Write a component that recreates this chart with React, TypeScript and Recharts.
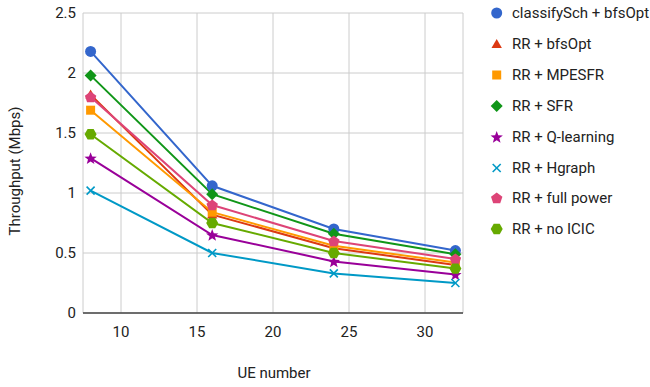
import React from "react";
import { LineChart, Line, XAxis, YAxis, CartesianGrid } from "recharts";

const ueNumbers = [8, 16, 24, 32];
const xTicks = [10, 15, 20, 25, 30];
const yTicks = [0, 0.5, 1, 1.5, 2, 2.5];

const seriesNames = [
  "classifySch + bfsOpt",
  "RR + bfsOpt",
  "RR + MPESFR",
  "RR + SFR",
  "RR + Q-learning",
  "RR + Hgraph",
  "RR + full power",
  "RR + no ICIC",
];
const classifySchBfsOpt = [2.18, 1.06, 0.7, 0.52];
const rrBfsOpt = [1.82, 0.82, 0.54, 0.4];
const rrMpesfr = [1.69, 0.84, 0.56, 0.42];
const rrSfr = [1.98, 0.99, 0.66, 0.49];
const rrQLearning = [1.29, 0.65, 0.43, 0.32];
const rrHgraph = [1.02, 0.5, 0.33, 0.25];
const rrFullPower = [1.8, 0.9, 0.6, 0.45];
const rrNoIcic = [1.49, 0.75, 0.5, 0.37];

const seriesValues = [
  classifySchBfsOpt,
  rrBfsOpt,
  rrMpesfr,
  rrSfr,
  rrQLearning,
  rrHgraph,
  rrFullPower,
  rrNoIcic,
];
const colors = ["#3366cc", "#dc3912", "#ff9900", "#109618", "#990099", "#0099c6", "#dd4477", "#66aa00"];
const shapes = ["circle", "triangle", "square", "diamond", "star", "cross", "pentagon", "hexagon"];

const keys = seriesNames.map((_, i) => `s${i}`);
const data = ueNumbers.map((x, j) => {
  const row: any = { x };
  seriesValues.forEach((vals, i) => {
    row[keys[i]] = vals[j];
  });
  return row;
});

function polygon(cx: number, cy: number, r: number, n: number, rot: number) {
  const pts: string[] = [];
  for (let k = 0; k < n; k++) {
    const a = rot + (k * 2 * Math.PI) / n;
    pts.push(`${cx + r * Math.cos(a)},${cy + r * Math.sin(a)}`);
  }
  return pts.join(" ");
}

function star(cx: number, cy: number, r: number) {
  const pts: string[] = [];
  for (let k = 0; k < 10; k++) {
    const a = -Math.PI / 2 + (k * Math.PI) / 5;
    const rr = k % 2 === 0 ? r : r * 0.42;
    pts.push(`${cx + rr * Math.cos(a)},${cy + rr * Math.sin(a)}`);
  }
  return pts.join(" ");
}

function Marker({ shape, cx, cy, color }: { shape: string; cx: number; cy: number; color: string }) {
  switch (shape) {
    case "circle":
      return <circle cx={cx} cy={cy} r={5.5} fill={color} />;
    case "triangle":
      return <polygon points={polygon(cx, cy + 1, 6, 3, -Math.PI / 2)} fill={color} />;
    case "square":
      return <rect x={cx - 4.5} y={cy - 4.5} width={9} height={9} fill={color} />;
    case "diamond":
      return <polygon points={polygon(cx, cy, 6, 4, 0)} fill={color} />;
    case "star":
      return <polygon points={star(cx, cy + 0.5, 6.5)} fill={color} />;
    case "cross":
      return (
        <g stroke={color} strokeWidth={1.6}>
          <line x1={cx - 4} y1={cy - 4} x2={cx + 4} y2={cy + 4} />
          <line x1={cx - 4} y1={cy + 4} x2={cx + 4} y2={cy - 4} />
        </g>
      );
    case "pentagon":
      return <polygon points={polygon(cx, cy + 0.5, 6, 5, -Math.PI / 2)} fill={color} />;
    case "hexagon":
      return <polygon points={polygon(cx, cy, 6, 6, 0)} fill={color} />;
    default:
      return null;
  }
}

const font = "Roboto, 'Noto Sans', sans-serif";

export default function App() {
  return (
    <div style={{ position: "absolute", left: 0, top: 0, width: 650, height: 387, background: "#fff", fontFamily: font }}>
      <LineChart width={650} height={387} data={data} margin={{ top: 13, right: 187, left: 0, bottom: 0 }}>
        <CartesianGrid stroke="#cccccc" strokeWidth={1} />
        <XAxis
          dataKey="x"
          type="number"
          domain={[7.5, 32.5]}
          ticks={xTicks}
          allowDataOverflow
          height={74}
          tickLine={false}
          tickSize={6}
          tickMargin={7}
          axisLine={{ stroke: "#444444", strokeWidth: 1.5 }}
          tick={{ fill: "#222222", fontSize: 15, fontFamily: font }}
          label={{
            content: () => (
              <text x={274} y={378} textAnchor="middle" fill="#222222" fontSize={15} fontFamily={font}>
                UE number
              </text>
            ),
          }}
        />
        <YAxis
          type="number"
          domain={[0, 2.5]}
          ticks={yTicks}
          width={83}
          tickLine={false}
          axisLine={false}
          tickSize={5}
          tickMargin={2}
          tick={{ fill: "#222222", fontSize: 15, fontFamily: font }}
          label={{
            content: () => (
              <text
                x={15}
                y={171}
                transform="rotate(-90 15 171)"
                textAnchor="middle"
                dominantBaseline="central"
                fill="#222222"
                fontSize={15}
                fontFamily={font}
              >
                Throughput (Mbps)
              </text>
            ),
          }}
        />
        {keys.map((k, i) => (
          <Line
            key={k}
            dataKey={k}
            name={seriesNames[i]}
            stroke={colors[i]}
            strokeWidth={2}
            isAnimationActive={false}
            activeDot={false}
            dot={(p: any) => <Marker key={`${k}-${p.index}`} shape={shapes[i]} cx={p.cx} cy={p.cy} color={colors[i]} />}
          />
        ))}
      </LineChart>
      <div style={{ position: "absolute", left: 486, top: 0 }}>
        {seriesNames.map((n, i) => (
          <div
            key={n}
            style={{ position: "absolute", left: 0, top: 13.3 + i * 30.85 - 10, height: 20, display: "flex", alignItems: "center", whiteSpace: "nowrap" }}
          >
            <svg width={22} height={20} style={{ display: "block" }}>
              <Marker shape={shapes[i]} cx={10.7} cy={10} color={colors[i]} />
            </svg>
            <span style={{ marginLeft: 4, fontSize: 15, color: "#222222", fontFamily: font }}>{n}</span>
          </div>
        ))}
      </div>
    </div>
  );
}
